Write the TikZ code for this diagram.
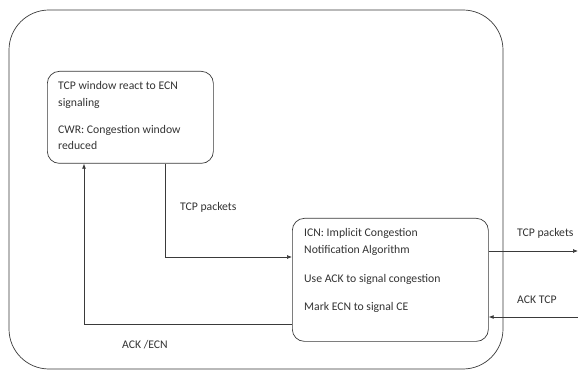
\documentclass[tikz,border=0pt]{standalone}
\usepackage{fontspec}
\setmainfont{Carlito}
\usetikzlibrary{arrows.meta}
\definecolor{ln}{HTML}{3A3A3A}
\definecolor{tx}{HTML}{333333}
\begin{document}
\begin{tikzpicture}[x=1pt,y=-1pt,
  frame/.style={draw=ln, line width=0.7pt},
  box/.style={draw=ln, line width=0.7pt, rounded corners=12pt, anchor=north west, inner sep=0pt},
  txt/.style={anchor=base west, inner sep=0pt, text=tx, font=\fontsize{11.7}{13}\selectfont},
  conn/.style={draw=ln, line width=0.7pt},
  arr/.style={conn, -{Latex[length=5pt,width=4pt]}}]
\useasboundingbox (0,0) rectangle (578,371);
\fill[white] (0,0) rectangle (578,371);
\draw[frame, rounded corners=40pt] (9,10) rectangle (503,369);
% box 1
\node[box, minimum width=166pt, minimum height=92pt] (b1) at (47,71) {};
\node[txt] (t1a) at (58,90) {TCP window react to ECN};
\node[txt] (t1b) at (58,107) {signaling};
\node[txt] (t1c) at (58,134) {CWR: Congestion window};
\node[txt] (t1d) at (58,150) {reduced};
% box 2
\node[box, minimum width=196pt, minimum height=123pt] (b2) at (292,218) {};
\node[txt] (t2a) at (304,237) {ICN: Implicit Congestion};
\node[txt] (t2b) at (304,254) {Notification Algorithm};
\node[txt] (t2c) at (304,283) {Use ACK to signal congestion};
\node[txt] (t2d) at (304,310) {Mark ECN to signal CE};
% connectors
\coordinate (c1) at (165,257);
\coordinate (c2) at (84,324);
\coordinate (outR) at (578,251);
\coordinate (inR) at (578,317);
\draw[arr] (b1.south west -| c1) |- (b2.west |- c1);
\draw[arr] (b2.west |- c2) -| (b1.south west -| c2);
\draw[arr] (b2.east |- outR) -- (outR);
\draw[arr] (inR) -- (b2.east |- inR);
% labels
\node[txt] (l1) at (180,211) {TCP packets};
\node[txt] (l2) at (122,348) {ACK /ECN};
\node[txt] (l3) at (517,237) {TCP packets};
\node[txt] (l4) at (517,303) {ACK TCP};
\end{tikzpicture}
\end{document}
